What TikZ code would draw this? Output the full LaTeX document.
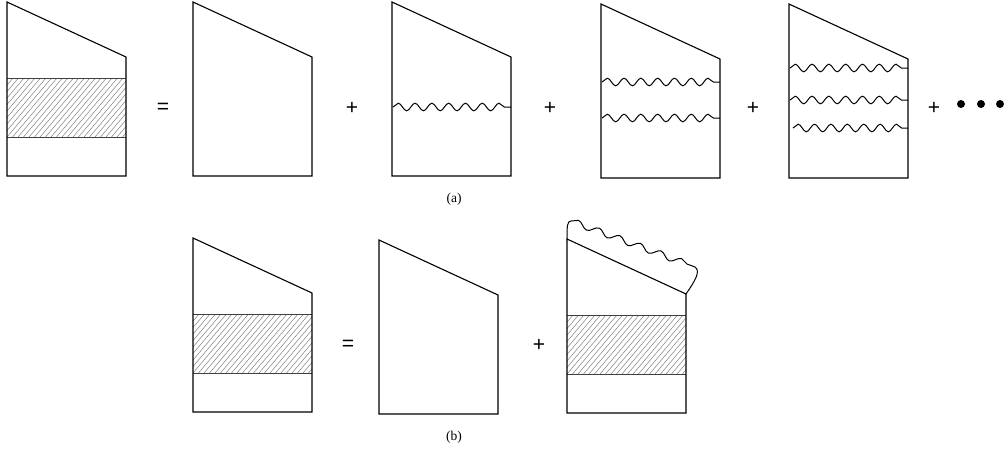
\documentclass[tikz,border=0pt]{standalone}
\usepackage{fontspec}
\setmainfont{Liberation Serif}
\newfontfamily\opfont{Liberation Sans}
\usetikzlibrary{decorations.pathmorphing}
\begin{document}
\begin{tikzpicture}[x=1pt,y=-1pt,
  outline/.style={line width=1.1pt, line join=miter},
  bandline/.style={line width=0.7pt, draw=black!75},
  hatchline/.style={line width=0.5pt, draw=black!50},
  wave/.style={line width=1pt, decorate, decoration={snake, segment length=16.8pt, amplitude=3.8pt}},
  edgewave/.style={line width=1pt, decorate, decoration={snake, segment length=22pt, amplitude=3.2pt}},
  op/.style={font=\opfont\fontsize{21}{21}\selectfont, inner sep=0pt},
  dot/.style={circle, fill=black, inner sep=0pt, minimum size=8pt},
  caption/.style={font=\fontsize{13.5}{15}\selectfont, inner sep=0pt},
  cell/.pic={\draw[outline] (0,0) -- (0,174) -- (119,174) -- (119,55) -- cycle;},
  hatched/.pic={
    \begin{scope}
      \clip (0,76) rectangle (119,135);
      \foreach \i in {-55,-49.5,...,125} \draw[hatchline] (\i,135) -- ++(50,-59);
    \end{scope}
    \draw[bandline] (0,76) -- (119,76) (0,135) -- (119,135);
    \draw[outline] (0,0) -- (0,174) -- (119,174) -- (119,55) -- cycle;
  }]
\useasboundingbox (0,0) rectangle (1005,458);

% ---- row (a) ----
\pic at (7,2) {hatched};
\node[op] (eqa) at (163,108) {=};
\pic at (193,2) {cell};
\node[op] (pa1) at (352,108) {+};
\begin{scope}[shift={(392,2)}]
  \pic at (0,0) {cell};
  \draw[wave] (1,105) -- (119,105);
\end{scope}
\node[op] (pa2) at (550,108) {+};
\begin{scope}[shift={(601,4)}]
  \pic at (0,0) {cell};
  \draw[wave] (1,78) -- (119,78);
  \draw[wave] (1,114) -- (119,114);
\end{scope}
\node[op] (pa3) at (753,108) {+};
\begin{scope}[shift={(789,4)}]
  \pic at (0,0) {cell};
  \draw[wave] (1,64) -- (119,64);
  \draw[wave] (1,96) -- (119,96);
  \draw[wave, decoration={segment length=16.4pt}] (4,124) -- (119,124);
\end{scope}
\node[op] (pa4) at (934,108) {+};
\node[dot] (d1) at (961,104) {};
\node[dot] (d2) at (981,104) {};
\node[dot] (d3) at (1000,104) {};
\node[caption] (la) at (454,199) {(a)};

% ---- row (b) ----
\pic at (193,238) {hatched};
\node[op] (eqb) at (348,345) {=};
\pic at (379,240) {cell};
\node[op] (pb1) at (539,345) {+};
\begin{scope}[shift={(567,239)}]
  \pic at (0,0) {hatched};
  \draw[line width=1pt] (0,0) .. controls (0,-12) and (0,-18) .. (4,-18);
  \draw[edgewave] (4,-18) -- (128,28);
  \draw[line width=1pt] (128,28) .. controls (134,32) and (128,42) .. (119,55);
\end{scope}
\node[caption] (lb) at (454,437) {(b)};
\end{tikzpicture}
\end{document}
